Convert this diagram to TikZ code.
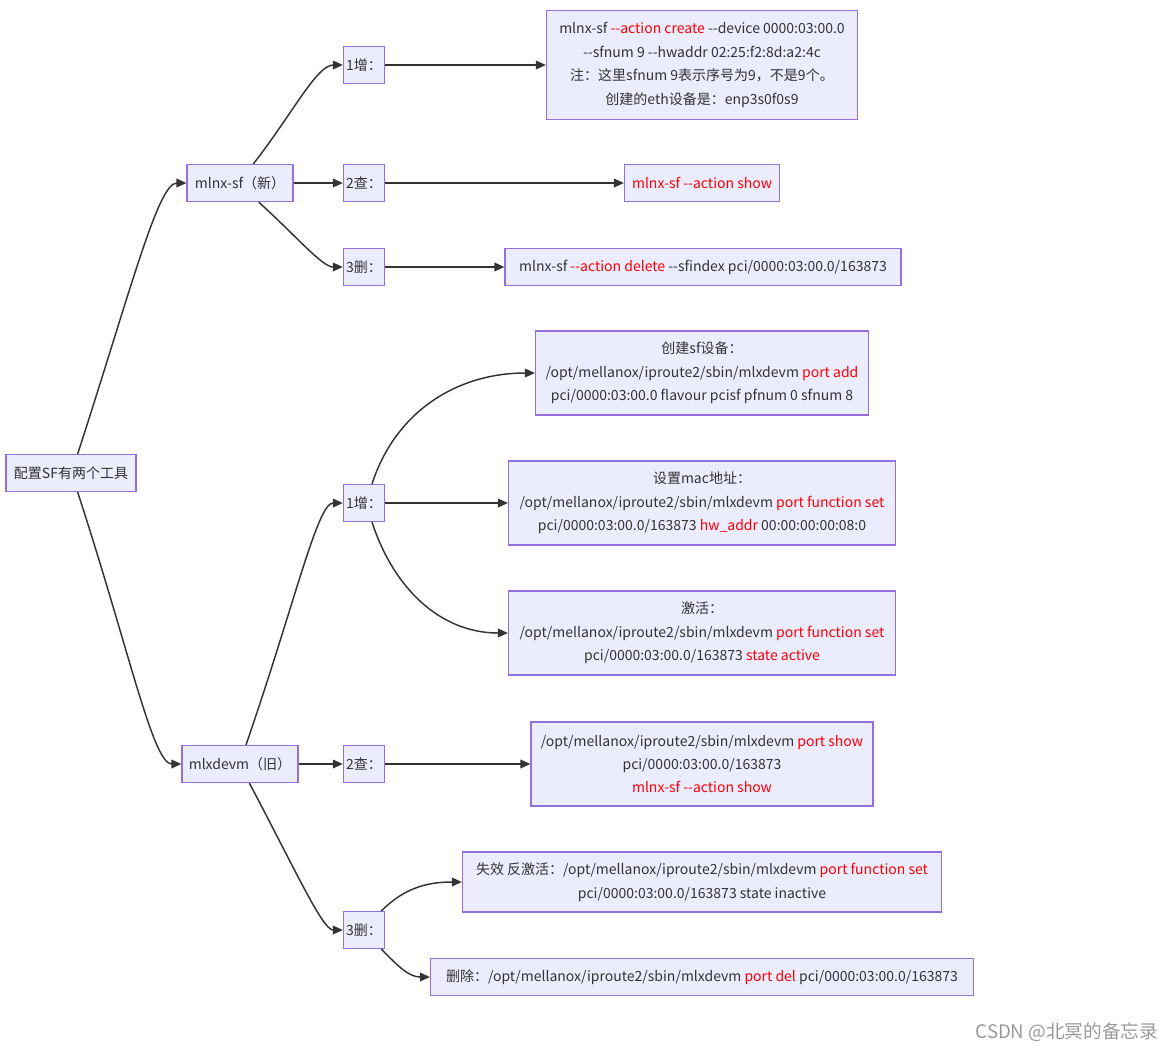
\documentclass[tikz,border=0pt]{standalone}
\usepackage{fontspec}
\setmainfont{Noto Sans CJK SC}[Ligatures=TeXOff]
\usetikzlibrary{arrows.meta}
\definecolor{nodefill}{HTML}{ECECFF}
\definecolor{nodeline}{HTML}{9370DB}
\definecolor{ink}{HTML}{333333}
\newcommand{\hl}[1]{\textcolor{red}{#1}}
\begin{document}
\begin{tikzpicture}[x=0.75pt,y=0.75pt,
  box/.style={draw=nodeline,fill=nodefill,text=ink,line width=0.9pt,
    inner xsep=5pt,inner ysep=0pt,align=center,minimum height=27.75pt,
    font=\fontsize{10.5}{17.6}\selectfont},
  stepbox/.style={box,inner xsep=2pt,minimum width=30.75pt},
  link/.style={draw=ink,line width=1.1pt,-{Triangle[length=7.5pt,width=6.5pt]}}]
  \useasboundingbox (0,0) rectangle (1167,-1054);

  % root and the two tools
  \node[box,minimum width=97.5pt] (root) at (71,-473) {配置SF有两个工具};
  \node[box,minimum width=79.5pt] (mlnxsf) at (240,-183) {mlnx-sf（新）};
  \node[box,minimum width=87pt] (mlxdevm) at (240,-764) {mlxdevm（旧）};

  % mlnx-sf: add / show / delete
  \node[stepbox] (sfadd) at (364,-65) {1增：};
  \node[stepbox] (sfshow) at (364,-183) {2查：};
  \node[stepbox] (sfdel) at (364,-267) {3删：};

  \node[box,minimum width=233.25pt,minimum height=81.75pt] (sfcreate) at (702,-65)
    {mlnx-sf \hl{--action create} --device 0000:03:00.0\\
     --sfnum 9 --hwaddr 02:25:f2:8d:a2:4c\\
     注：这里sfnum 9表示序号为9，不是9个。\\
     创建的eth设备是：enp3s0f0s9};
  \node[box,minimum width=116.25pt] (sflist) at (702,-183) {\hl{mlnx-sf --action show}};
  \node[box,minimum width=297pt] (sfremove) at (703,-267)
    {mlnx-sf \hl{--action delete} --sfindex pci/0000:03:00.0/163873};

  % mlxdevm: add / show / delete
  \node[stepbox] (devadd) at (364,-503) {1增：};
  \node[stepbox] (devshow) at (364,-764) {2查：};
  \node[stepbox] (devdel) at (364,-930) {3删：};

  \node[box,minimum width=249.75pt,minimum height=63pt] (portadd) at (702,-373)
    {创建sf设备：\\
     /opt/mellanox/iproute2/sbin/mlxdevm \hl{port add}\\
     pci/0000:03:00.0 flavour pcisf pfnum 0 sfnum 8};
  \node[box,minimum width=290.25pt,minimum height=63pt] (setmac) at (702,-503)
    {设置mac地址：\\
     /opt/mellanox/iproute2/sbin/mlxdevm \hl{port function set}\\
     pci/0000:03:00.0/163873 \hl{hw\_addr} 00:00:00:00:08:0};
  \node[box,minimum width=290.25pt,minimum height=63pt] (activate) at (702,-633)
    {激活：\\
     /opt/mellanox/iproute2/sbin/mlxdevm \hl{port function set}\\
     pci/0000:03:00.0/163873 \hl{state active}};
  \node[box,minimum width=256.5pt,minimum height=63pt] (portshow) at (702,-764)
    {/opt/mellanox/iproute2/sbin/mlxdevm \hl{port show}\\
     pci/0000:03:00.0/163873\\
     \hl{mlnx-sf --action show}};
  \node[box,minimum width=359.25pt,minimum height=45pt] (deactivate) at (702,-882)
    {失效 反激活：/opt/mellanox/iproute2/sbin/mlxdevm \hl{port function set}\\
     pci/0000:03:00.0/163873 state inactive};
  \node[box,minimum width=407.25pt] (portdel) at (702,-977)
    {删除：/opt/mellanox/iproute2/sbin/mlxdevm \hl{port del} pci/0000:03:00.0/163873};

  % connectors
  \draw[link] ([xshift=5pt]root.north) to[out=72,in=180,out looseness=1.5,in looseness=0.25] (mlnxsf.west);
  \draw[link] ([xshift=5pt]root.south) to[out=-72,in=180,out looseness=1.5,in looseness=0.25] (mlxdevm.west);

  \draw[link] ([xshift=10pt]mlnxsf.north) to[out=52,in=180,out looseness=1.2,in looseness=0.5] (sfadd.west);
  \draw[link] (mlnxsf) -- (sfshow);
  \draw[link] ([xshift=14pt]mlnxsf.south) to[out=-42,in=180,out looseness=1.2,in looseness=0.5] (sfdel.west);
  \draw[link] (sfadd) -- (sfcreate);
  \draw[link] (sfshow) -- (sflist);
  \draw[link] (sfdel) -- (sfremove);

  \draw[link] ([xshift=4.5pt]mlxdevm.north) to[out=71,in=180,out looseness=1.5,in looseness=0.25] (devadd.west);
  \draw[link] (mlxdevm) -- (devshow);
  \draw[link] ([xshift=7pt]mlxdevm.south) to[out=-62,in=180,out looseness=1.4,in looseness=0.3] (devdel.west);

  \draw[link] ([xshift=6pt]devadd.north) to[out=72,in=180] (portadd.west);
  \draw[link] (devadd) -- (setmac);
  \draw[link] ([xshift=6pt]devadd.south) to[out=-72,in=180] (activate.west);
  \draw[link] (devshow) -- (portshow);
  \draw[link] ([xshift=13pt]devdel.north) to[out=45,in=180] (deactivate.west);
  \draw[link] ([xshift=13pt]devdel.south) to[out=-45,in=180] (portdel.west);

  % watermark
  \node[anchor=east,text=black!40,font=\fontsize{14}{16}\selectfont] (mark) at (1163,-1032)
    {CSDN @北冥的备忘录};
\end{tikzpicture}
\end{document}
